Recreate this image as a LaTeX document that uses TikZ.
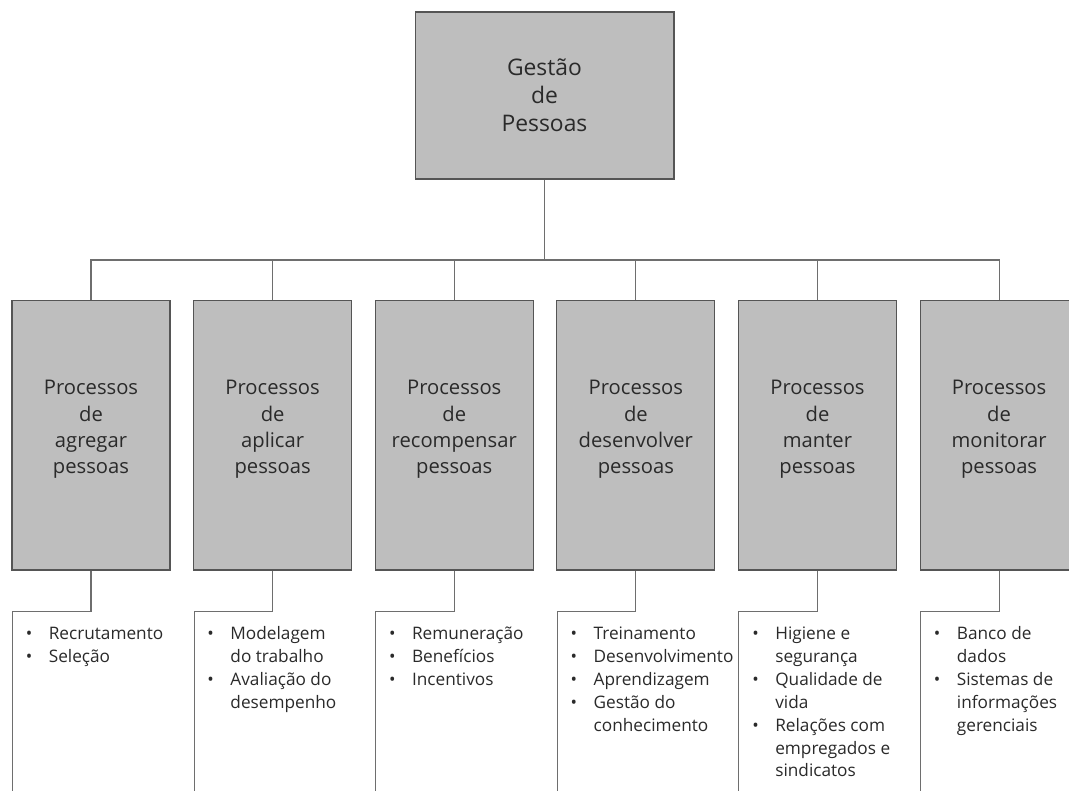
\documentclass[tikz,border=0pt]{standalone}
\usepackage{fontspec}
\setmainfont{Open Sans}
\usepackage{xcolor}
\definecolor{boxgray}{HTML}{BEBEBE}
\definecolor{edgegray}{HTML}{555555}
\definecolor{linegray}{HTML}{6E6E6E}
\definecolor{textgray}{HTML}{2A2A2A}
\usepackage{tikz}
\usetikzlibrary{positioning, calc}
\tikzset{
  topbox/.style ={rectangle, draw=edgegray, line width=0.6pt, fill=boxgray, text=textgray, align=center,
                  minimum width=5.18cm, minimum height=3.34cm, font=\fontsize{13}{15.9}\selectfont},
  procbox/.style={rectangle, draw=edgegray, line width=0.6pt, fill=boxgray, text=textgray, align=center,
                  minimum width=3.16cm, minimum height=5.4cm, text depth=9pt, font=\fontsize{11.5}{15}\selectfont},
  plink/.style  ={draw=linegray, line width=0.6pt},
  plist/.style  ={anchor=north west, inner sep=0pt, text=textgray, align=left, font=\fontsize{9.8}{13}\selectfont},
}
\newcommand{\blist}[1]{\begin{tabular}{@{}p{0.46cm}@{}l@{}}#1\end{tabular}}

\begin{document}
\begin{tikzpicture}[x=0.02cm, y=-0.02cm, node distance=0.452cm]
  \clip (0,0) rectangle (1069,791);
  \fill[white] (0,0) rectangle (1069,791);
  % topo
  \node[topbox] (gp) at (544.5,95.5) {Gestão\\de\\Pessoas};
  % processos
  \node[procbox] (p1) at (91,435) {Processos\\de\\agregar\\pessoas};
  \node[procbox, right=of p1] (p2) {Processos\\de\\aplicar\\pessoas};
  \node[procbox, right=of p2] (p3) {Processos\\de\\recompensar\\pessoas};
  \node[procbox, right=of p3] (p4) {Processos\\de\\desenvolver\\pessoas};
  \node[procbox, right=of p4] (p5) {Processos\\de\\manter\\pessoas};
  \node[procbox, right=of p5] (p6) {Processos\\de\\monitorar\\pessoas};
  % barramento
  \coordinate (bus) at (544.5,260);
  \draw[plink] (gp.south) -- (gp.south |- bus);
  \draw[plink] (p1.north) -- (p1.north |- bus) -- (p6.north |- bus) -- (p6.north);
  \foreach \i in {2,...,5} \draw[plink] (p\i.north) -- (p\i.north |- bus);
  % colchetes
  \foreach \i in {1,...,6} {
    \coordinate (e\i) at ($(p\i.south west)+(1,240)$);
    \draw[plink] (p\i.south) -- ++(0,41) -| (e\i);
  }
  % listas
  \node[plist] (l1) at ($(p1.south west)+(14,53)$) {\blist{\textbullet & Recrutamento\\ \textbullet & Seleção}};
  \node[plist] (l2) at ($(p2.south west)+(14,53)$) {\blist{\textbullet & Modelagem\\ & do trabalho\\ \textbullet & Avaliação do\\ & desempenho}};
  \node[plist] (l3) at ($(p3.south west)+(14,53)$) {\blist{\textbullet & Remuneração\\ \textbullet & Benefícios\\ \textbullet & Incentivos}};
  \node[plist] (l4) at ($(p4.south west)+(14,53)$) {\blist{\textbullet & Treinamento\\ \textbullet & Desenvolvimento\\ \textbullet & Aprendizagem\\ \textbullet & Gestão do\\ & conhecimento}};
  \node[plist] (l5) at ($(p5.south west)+(14,53)$) {\blist{\textbullet & Higiene e\\ & segurança\\ \textbullet & Qualidade de\\ & vida\\ \textbullet & Relações com\\ & empregados e\\ & sindicatos}};
  \node[plist] (l6) at ($(p6.south west)+(14,53)$) {\blist{\textbullet & Banco de\\ & dados\\ \textbullet & Sistemas de\\ & informações\\ & gerenciais}};
\end{tikzpicture}
\end{document}
